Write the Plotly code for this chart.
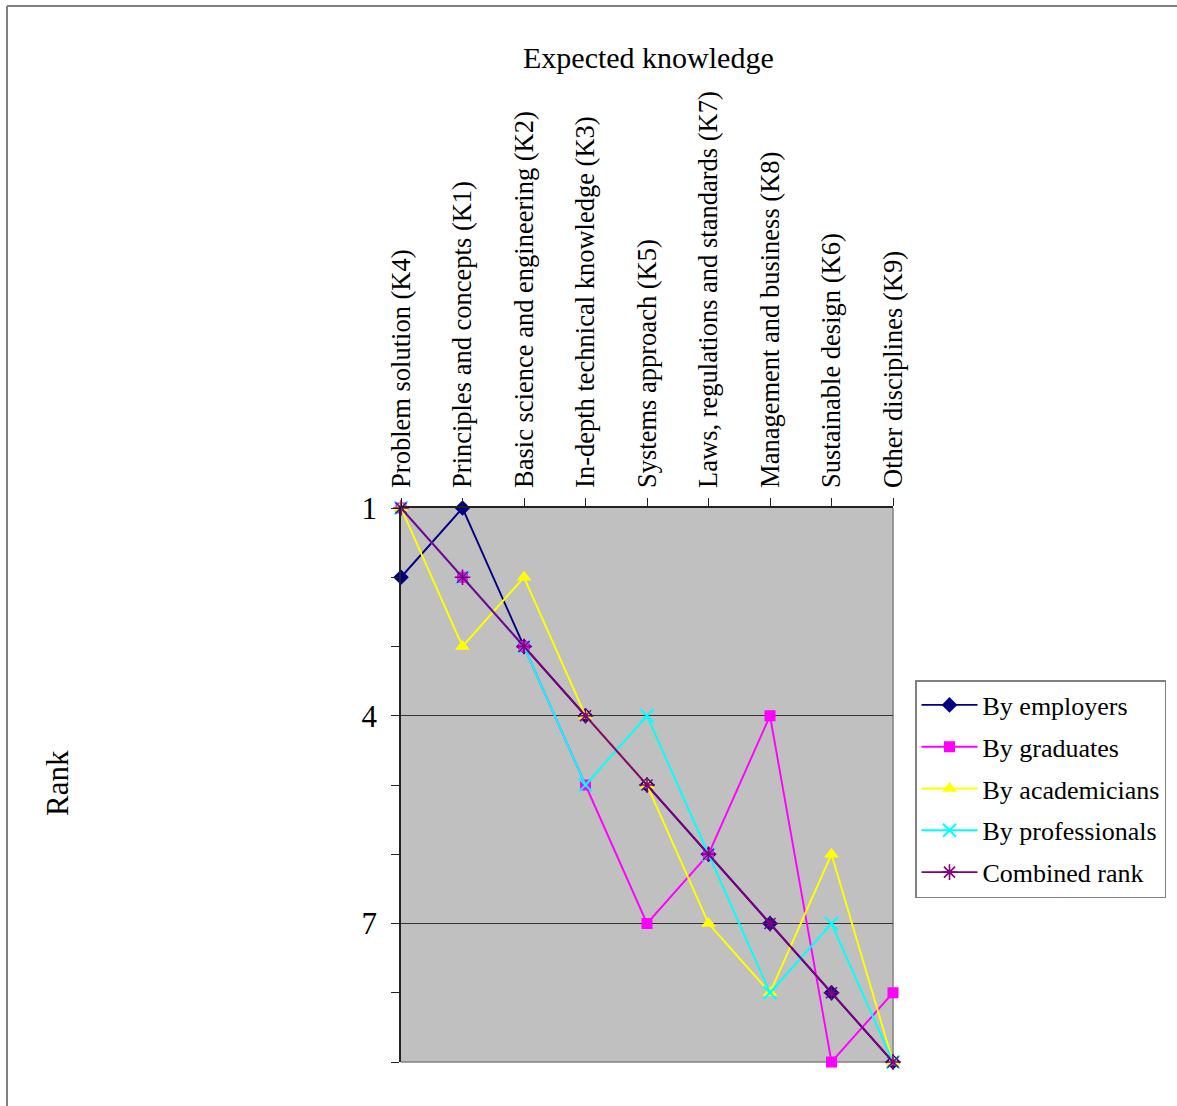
import plotly.graph_objects as go

# Knowledge areas, in the order they are plotted
categories = [
    "Problem solution (K4)",
    "Principles and concepts (K1)",
    "Basic science and engineering (K2)",
    "In-depth technical knowledge (K3)",
    "Systems approach (K5)",
    "Laws, regulations and standards (K7)",
    "Management and business (K8)",
    "Sustainable design (K6)",
    "Other disciplines (K9)",
]

# Rank given by each group (1 = most important)
rank_employers = [2, 1, 3, 4, 5, 6, 7, 8, 9]
rank_graduates = [1, 2, 3, 5, 7, 6, 4, 9, 8]
rank_academicians = [1, 3, 2, 4, 5, 7, 8, 6, 9]
rank_professionals = [1, 2, 3, 5, 4, 6, 8, 7, 9]
rank_combined = [1, 2, 3, 4, 5, 6, 7, 8, 9]

y_major = [1, 4, 7]
y_minor = [2, 3, 5, 6, 8, 9]

FONT = "Liberation Serif"
W, H = 1177, 1106
L, R, T, B = 401, 893, 508, 1062  # plot area in pixels


def px(x):
    return (x - L) / (R - L)


def py(y):
    return (B - y) / (B - T)


xs = list(range(len(categories)))

series = [
    ("By employers", rank_employers, "#000080",
     dict(symbol="diamond", size=12, color="#000080")),
    ("By graduates", rank_graduates, "#FF00FF",
     dict(symbol="square", size=11, color="#FF00FF")),
    ("By academicians", rank_academicians, "#FFFF00",
     dict(symbol="triangle-up", size=13, color="#FFFF00")),
    ("By professionals", rank_professionals, "#00FFFF",
     dict(symbol="x-thin", size=13, color="#00FFFF",
          line=dict(color="#00FFFF", width=2))),
    ("Combined rank", rank_combined, "#800080",
     dict(symbol="asterisk", size=13, color="#800080",
          line=dict(color="#800080", width=1.6))),
]

fig = go.Figure()
for name, vals, color, marker in series:
    fig.add_trace(go.Scatter(
        x=xs, y=vals, name=name, legendgroup=name, mode="lines+markers",
        line=dict(color=color, width=1.9),
        marker=marker, cliponaxis=False,
    ))

shapes = [
    # right and bottom edges of the plot area
    dict(type="line", xref="paper", yref="paper", x0=1, x1=1, y0=0, y1=1,
         line=dict(color="#808080", width=1.5), layer="below"),
    dict(type="line", xref="paper", yref="paper", x0=0, x1=1, y0=0, y1=0,
         line=dict(color="#808080", width=1.5), layer="below"),
    # outer frame (top and left)
    dict(type="line", xref="paper", yref="paper", x0=px(7), x1=px(W + 5),
         y0=py(6), y1=py(6), line=dict(color="#808080", width=2)),
    dict(type="line", xref="paper", yref="paper", x0=px(7), x1=px(7),
         y0=py(6), y1=py(H + 5), line=dict(color="#808080", width=2)),
]

fig.update_layout(
    width=W, height=H,
    margin=dict(l=L, r=W - R, t=T, b=H - B, pad=0, autoexpand=False),
    paper_bgcolor="white",
    plot_bgcolor="#C0C0C0",
    font=dict(family=FONT, color="black"),
    showlegend=True,
    legend=dict(
        x=px(915), y=py(680), xanchor="left", yanchor="top",
        bgcolor="white", bordercolor="#808080", borderwidth=1.5,
        font=dict(family=FONT, size=26, color="black"),
        itemwidth=56, tracegroupgap=5,
    ),
    shapes=shapes,
    annotations=[
        dict(text="Expected knowledge", xref="paper", yref="paper",
             x=px(648), y=py(57), xanchor="center", yanchor="middle",
             showarrow=False, font=dict(family=FONT, size=30)),
        dict(text="Rank", xref="paper", yref="paper",
             x=px(57), y=py(783), xanchor="center", yanchor="middle",
             textangle=-90, showarrow=False, font=dict(family=FONT, size=31)),
    ],
)

fig.update_xaxes(
    type="linear", range=[0, len(categories) - 1], side="top",
    tickvals=xs, ticktext=categories, tickangle=-90,
    tickfont=dict(family=FONT, size=26.5),
    ticks="outside", ticklen=8, tickcolor="#222", tickwidth=1,
    ticklabelstandoff=5,
    showline=True, linecolor="#222", linewidth=1.5,
    showgrid=False, zeroline=False, fixedrange=True,
)

fig.update_yaxes(
    range=[9, 1], tickvals=y_major, ticktext=[str(v) for v in y_major],
    tickfont=dict(family=FONT, size=31),
    ticks="outside", ticklen=8, tickcolor="#222", tickwidth=1,
    ticklabelstandoff=8,
    showline=True, linecolor="#222", linewidth=1.5,
    showgrid=True, gridcolor="#333", gridwidth=1,
    minor=dict(tickvals=y_minor, ticks="outside", ticklen=8,
               tickcolor="#222", showgrid=False),
    zeroline=False, fixedrange=True,
)

fig.write_html("out.html")
